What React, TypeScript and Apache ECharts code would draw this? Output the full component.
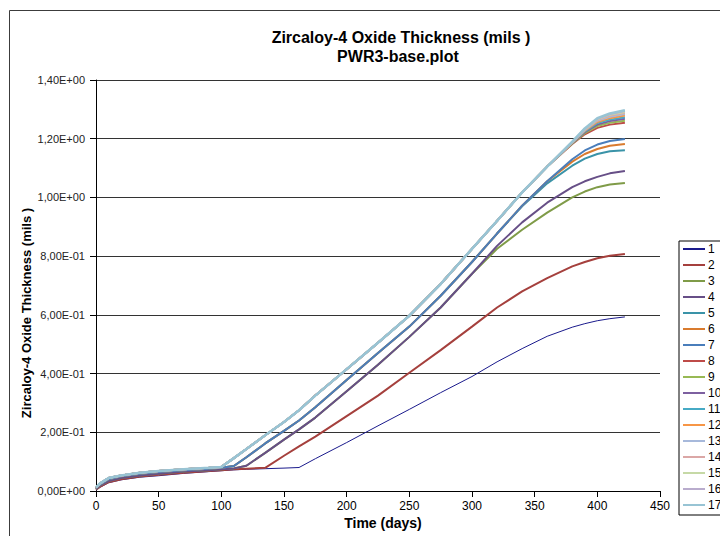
import React, { useEffect, useRef } from "react";
import * as echarts from "echarts";

// Time axis (days) shared by every series
const days = [0, 3, 10, 20, 35, 50, 70, 90, 100, 110, 120, 135, 150, 162, 175, 200, 225, 250, 275, 300, 320, 340, 360, 380, 390, 400, 410, 422];

// Oxide thickness (mils) per curve
const s1 = [0.003, 0.012, 0.028, 0.038, 0.047, 0.052, 0.06, 0.066, 0.069, 0.072, 0.074, 0.076, 0.078, 0.08, 0.11, 0.165, 0.222, 0.278, 0.335, 0.39, 0.44, 0.485, 0.527, 0.558, 0.57, 0.58, 0.587, 0.593];
const s2 = [0.004, 0.014, 0.03, 0.04, 0.049, 0.055, 0.062, 0.068, 0.071, 0.074, 0.076, 0.079, 0.12, 0.152, 0.185, 0.255, 0.325, 0.403, 0.48, 0.56, 0.625, 0.68, 0.725, 0.765, 0.78, 0.793, 0.801, 0.807];
const s3 = [0.006, 0.018, 0.034, 0.044, 0.053, 0.059, 0.066, 0.071, 0.074, 0.077, 0.086, 0.13, 0.175, 0.21, 0.25, 0.34, 0.43, 0.525, 0.625, 0.74, 0.825, 0.89, 0.948, 1.0, 1.02, 1.035, 1.044, 1.049];
const s4 = [0.006, 0.018, 0.034, 0.044, 0.053, 0.059, 0.066, 0.071, 0.074, 0.077, 0.086, 0.13, 0.175, 0.21, 0.25, 0.34, 0.43, 0.525, 0.625, 0.74, 0.835, 0.915, 0.982, 1.035, 1.055, 1.07, 1.082, 1.09];
const s5 = [0.01, 0.022, 0.04, 0.05, 0.059, 0.065, 0.071, 0.076, 0.079, 0.085, 0.115, 0.162, 0.205, 0.24, 0.285, 0.378, 0.47, 0.56, 0.665, 0.78, 0.877, 0.97, 1.048, 1.108, 1.132, 1.148, 1.157, 1.161];
const s6 = [0.01, 0.022, 0.04, 0.05, 0.059, 0.065, 0.071, 0.076, 0.079, 0.085, 0.115, 0.162, 0.205, 0.24, 0.285, 0.378, 0.47, 0.56, 0.665, 0.78, 0.877, 0.972, 1.055, 1.122, 1.148, 1.165, 1.176, 1.182];
const s7 = [0.01, 0.022, 0.04, 0.05, 0.059, 0.065, 0.071, 0.076, 0.079, 0.085, 0.115, 0.162, 0.205, 0.24, 0.285, 0.378, 0.47, 0.56, 0.665, 0.78, 0.877, 0.972, 1.055, 1.13, 1.16, 1.18, 1.192, 1.199];

// Upper bundle (curves 8-17) coincides up to day 360
const upperBranch = [0.012, 0.025, 0.044, 0.053, 0.062, 0.068, 0.074, 0.079, 0.082, 0.112, 0.143, 0.19, 0.235, 0.275, 0.325, 0.415, 0.505, 0.597, 0.705, 0.825, 0.92, 1.017, 1.105];
const s8 = [...upperBranch, 1.182, 1.215, 1.237, 1.248, 1.254];
const s9 = [...upperBranch, 1.184, 1.219, 1.243, 1.254, 1.261];
const s10 = [...upperBranch, 1.185, 1.222, 1.248, 1.26, 1.268];
const s11 = [...upperBranch, 1.186, 1.225, 1.253, 1.265, 1.273];
const s12 = [...upperBranch, 1.187, 1.227, 1.257, 1.27, 1.279];
const s13 = [...upperBranch, 1.188, 1.229, 1.261, 1.275, 1.284];
const s14 = [...upperBranch, 1.188, 1.231, 1.264, 1.279, 1.288];
const s15 = [...upperBranch, 1.189, 1.232, 1.266, 1.282, 1.291];
const s16 = [...upperBranch, 1.189, 1.234, 1.268, 1.284, 1.294];
const s17 = [...upperBranch, 1.19, 1.235, 1.27, 1.286, 1.297];

const seriesNames = ["1", "2", "3", "4", "5", "6", "7", "8", "9", "10", "11", "12", "13", "14", "15", "16", "17"];
const seriesValues = [s1, s2, s3, s4, s5, s6, s7, s8, s9, s10, s11, s12, s13, s14, s15, s16, s17];
const seriesColors = [
  "#1a1a8c", "#a5403d", "#7f9b48", "#674f87", "#3a93a8", "#d97b2e", "#4a7ebb", "#be4b48", "#98b954",
  "#7d60a0", "#46aac5", "#f79646", "#a7b9db", "#dba7a6", "#c6d9a6", "#b9accd", "#98c4d4",
];

const yTickLabels = ["0,00E+00", "2,00E-01", "4,00E-01", "6,00E-01", "8,00E-01", "1,00E+00", "1,20E+00", "1,40E+00"];
const xTickLabels = ["0", "50", "100", "150", "200", "250", "300", "350", "400", "450"];

const titleLines = ["Zircaloy-4 Oxide Thickness (mils )", "PWR3-base.plot"];
const xAxisTitle = "Time (days)";
const yAxisTitle = "Zircaloy-4 Oxide Thickness (mils )";
const FONT = "'Liberation Sans', Arial, Helvetica, sans-serif";

export default function App() {
  const ref = useRef<HTMLDivElement>(null);

  useEffect(() => {
    if (!ref.current) return;
    const chart = echarts.init(ref.current, null, { renderer: "svg" });

    const series = seriesNames.map((name, k) => ({
      name,
      type: "line",
      symbol: "none",
      data: days.map((d, i) => [d, seriesValues[k][i]]),
      lineStyle: { width: k === 0 ? 1 : k === 16 ? 2.5 : 2, color: seriesColors[k] },
      itemStyle: { color: seriesColors[k] },
      z: 2 + k,
    }));

    const boldText = (text: string, x: number, y: number, size: number, rotation = 0) => ({
      type: "text",
      x,
      y,
      rotation,
      silent: true,
      style: {
        text,
        fill: "#000",
        font: `bold ${size}px ${FONT}`,
        textAlign: "center",
        textVerticalAlign: "middle",
      },
    });

    chart.setOption({
      animation: false,
      backgroundColor: "#ffffff",
      textStyle: { fontFamily: FONT },
      grid: { left: 96, right: 60, top: 80, bottom: 45, containLabel: false },
      graphic: [
        {
          type: "rect",
          silent: true,
          shape: { x: 9.5, y: 10.5, width: 760, height: 580 },
          style: { fill: "none", stroke: "#3c3c3c", lineWidth: 1 },
        },
        boldText(titleLines[0], 401, 37, 16),
        boldText(titleLines[1], 398, 56, 16),
        boldText(xAxisTitle, 383, 523, 14),
        boldText(yAxisTitle, 26, 313, 13, Math.PI / 2),
      ],
      legend: {
        orient: "vertical",
        left: 679,
        top: 241,
        padding: [2, 40, 4, 4],
        icon: "rect",
        itemWidth: 22,
        itemHeight: 2,
        itemGap: 4,
        borderColor: "#000",
        borderWidth: 1,
        textStyle: { fontSize: 12, color: "#000", fontFamily: FONT, padding: [0, 0, 0, -2] },
        data: seriesNames,
      },
      xAxis: {
        type: "value",
        min: 0,
        max: 450,
        interval: 50,
        axisLine: { show: true, lineStyle: { color: "#000", width: 1 } },
        axisTick: { show: true, length: 6, lineStyle: { color: "#000" } },
        axisLabel: {
          fontSize: 12,
          color: "#000",
          margin: 9,
          formatter: (v: number) => xTickLabels[Math.round(v / 50)] ?? "",
        },
        splitLine: { show: false },
      },
      yAxis: {
        type: "value",
        min: 0,
        max: 1.4,
        interval: 0.2,
        axisLine: { show: true, lineStyle: { color: "#000", width: 1 } },
        axisTick: { show: true, length: 6, lineStyle: { color: "#000" } },
        axisLabel: {
          fontSize: 11,
          color: "#222",
          margin: 11,
          formatter: (v: number) => yTickLabels[Math.round(v / 0.2)] ?? "",
        },
        splitLine: { show: true, lineStyle: { color: "#333", width: 1 } },
      },
      series,
    });

    return () => chart.dispose();
  }, []);

  return (
    <div
      ref={ref}
      style={{ position: "absolute", left: 0, top: 0, width: 720, height: 536 }}
    />
  );
}
